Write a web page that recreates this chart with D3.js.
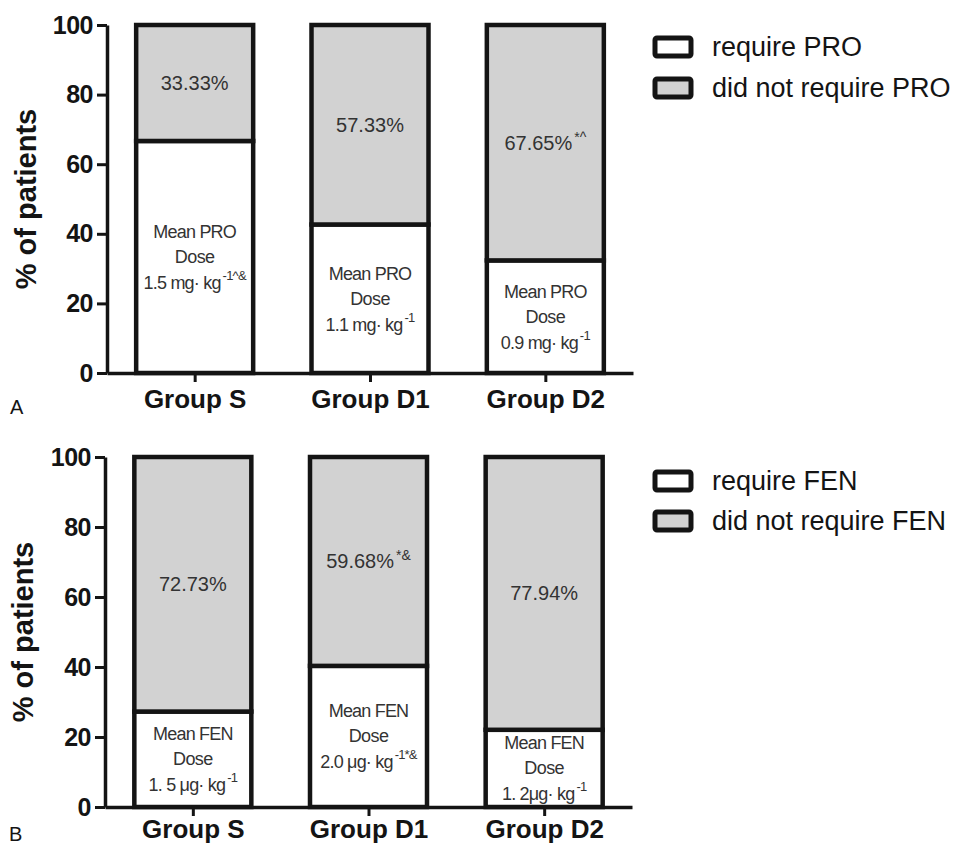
<!DOCTYPE html>
<html>
<head>
<meta charset="utf-8">
<script src="https://cdn.jsdelivr.net/npm/d3@7"></script>
<style>
  body { margin: 0; background: #fff; }
  svg { display: block; }
  text { font-family: "Liberation Sans", Arial, sans-serif; }
</style>
</head>
<body>
<script>
var width = 967;
var height = 846;

// ------- data --------

var groups = ['Group S', 'Group D1', 'Group D2'];
var yTicks = [0, 20, 40, 60, 80, 100];

// panel A: propofol
var proRequire = [66.67, 42.67, 32.35];
var proNotRequire = [33.33, 57.33, 67.65];
var proNotSup = ['', '', '*^'];
var proDose = ['1.5 mg· kg', '1.1 mg· kg', '0.9 mg· kg'];
var proDoseSup = ['-1^&', '-1', '-1'];
var proLegend = ['require PRO', 'did not require PRO'];

// panel B: fentanyl
var fenRequire = [27.27, 40.32, 22.06];
var fenNotRequire = [72.73, 59.68, 77.94];
var fenNotSup = ['', '*&', ''];
var fenDose = ['1. 5 μg· kg', '2.0 μg· kg', '1. 2μg· kg'];
var fenDoseSup = ['-1', '-1*&', '-1'];
var fenLegend = ['require FEN', 'did not require FEN'];

var grey = '#d2d2d2';
var ink = '#141414';

// ------- SVG --------

var svg = d3.select('body')
    .append('svg')
    .attr('width', width)
    .attr('height', height);

function drawPanel(p) {
    var g = svg.append('g');

    var x = d3.scalePoint()
        .domain(groups)
        .range([p.left, p.right])
        .padding(0.5);
    var y = d3.scaleLinear()
        .domain([0, 100])
        .range([p.bottom, p.top]);
    var bw = 117;

    var rows = groups.map(function(d, i) {
        return {group: d, req: p.req[i], notReq: p.notReq[i],
                notSup: p.notSup[i], dose: p.dose[i], doseSup: p.doseSup[i]};
    });

    // bars: white part (required) then grey part (not required)
    g.selectAll('rect.req')
        .data(rows)
        .enter()
        .append('rect')
        .attr('class', 'req')
        .attr('x', function(d) { return x(d.group) - bw / 2; })
        .attr('y', function(d) { return y(d.req); })
        .attr('width', bw)
        .attr('height', function(d) { return y(0) - y(d.req); })
        .attr('fill', '#fff')
        .attr('stroke', ink)
        .attr('stroke-width', 4.5);

    g.selectAll('rect.notreq')
        .data(rows)
        .enter()
        .append('rect')
        .attr('class', 'notreq')
        .attr('x', function(d) { return x(d.group) - bw / 2; })
        .attr('y', y(100))
        .attr('width', bw)
        .attr('height', function(d) { return y(d.req) - y(100); })
        .attr('fill', grey)
        .attr('stroke', ink)
        .attr('stroke-width', 4.5);

    // percent labels in grey part
    var pct = g.selectAll('text.pct')
        .data(rows)
        .enter()
        .append('text')
        .attr('class', 'pct')
        .attr('x', function(d) { return x(d.group); })
        .attr('y', function(d) { return (y(d.req) + y(100)) / 2 + 7; })
        .attr('text-anchor', 'middle')
        .attr('font-size', 20)
        .attr('fill', '#333');
    pct.append('tspan').text(function(d) { return d.notReq.toFixed(2) + '%'; });
    pct.append('tspan')
        .attr('font-size', 14)
        .attr('dy', -8)
        .attr('dx', 2)
        .text(function(d) { return d.notSup; });

    // dose labels in white part
    var dose = g.selectAll('g.dose')
        .data(rows)
        .enter()
        .append('g')
        .attr('class', 'dose')
        .attr('transform', function(d) {
            return 'translate(' + x(d.group) + ',' + (y(0) + y(d.req)) / 2 + ')';
        });
    dose.append('text')
        .attr('text-anchor', 'middle')
        .attr('y', -19)
        .attr('font-size', 18)
        .attr('letter-spacing', -0.8)
        .attr('fill', '#333')
        .text(p.drugLine);
    dose.append('text')
        .attr('text-anchor', 'middle')
        .attr('y', 6)
        .attr('font-size', 18)
        .attr('letter-spacing', -0.6)
        .attr('fill', '#333')
        .text('Dose');
    var dl = dose.append('text')
        .attr('text-anchor', 'middle')
        .attr('y', 32)
        .attr('font-size', 18)
        .attr('letter-spacing', -0.8)
        .attr('fill', '#333');
    dl.append('tspan').text(function(d) { return d.dose; });
    dl.append('tspan')
        .attr('font-size', 13)
        .attr('dy', -9)
        .attr('dx', 2)
        .text(function(d) { return d.doseSup; });

    // axes
    var yAxis = d3.axisLeft(y)
        .tickValues(yTicks)
        .tickSize(10)
        .tickSizeOuter(0)
        .tickPadding(4);
    var ya = g.append('g')
        .attr('transform', 'translate(' + p.left + ',0)')
        .call(yAxis);
    ya.select('.domain').attr('stroke', ink).attr('stroke-width', 3.5);
    ya.selectAll('.tick line').attr('stroke', ink).attr('stroke-width', 3);
    ya.selectAll('.tick text')
        .attr('font-size', 25)
        .attr('font-weight', 'bold')
        .attr('letter-spacing', -0.5)
        .attr('font-family', '"Liberation Sans", Arial, sans-serif')
        .attr('fill', ink);

    var xAxis = d3.axisBottom(x)
        .tickSize(9)
        .tickSizeOuter(0)
        .tickPadding(p.xPad);
    var xa = g.append('g')
        .attr('transform', 'translate(0,' + p.bottom + ')')
        .call(xAxis);
    xa.select('.domain').attr('stroke', ink).attr('stroke-width', 3.5);
    xa.selectAll('.tick line').attr('stroke', ink).attr('stroke-width', 3);
    xa.selectAll('.tick text')
        .attr('font-size', 26)
        .attr('font-weight', 'bold')
        .attr('font-family', '"Liberation Sans", Arial, sans-serif')
        .attr('fill', ink);

    // y title
    g.append('text')
        .attr('transform', 'translate(' + p.titleX + ',' + (p.top + p.bottom) / 2 + ') rotate(-90)')
        .attr('text-anchor', 'middle')
        .attr('font-size', 29)
        .attr('font-weight', 'bold')
        .attr('fill', ink)
        .text('% of patients');

    // panel letter
    g.append('text')
        .attr('x', p.letterX)
        .attr('y', p.letterY)
        .attr('font-size', 20)
        .attr('fill', ink)
        .text(p.letter);

    // legend
    var lg = g.selectAll('g.legend')
        .data(p.legend)
        .enter()
        .append('g')
        .attr('class', 'legend')
        .attr('transform', function(d, i) { return 'translate(655,' + p.legendY[i] + ')'; });
    lg.append('rect')
        .attr('x', 0)
        .attr('y', -9)
        .attr('width', 36)
        .attr('height', 18)
        .attr('rx', 2)
        .attr('fill', function(d, i) { return i === 0 ? '#fff' : grey; })
        .attr('stroke', ink)
        .attr('stroke-width', 5);
    lg.append('text')
        .attr('x', 57)
        .attr('y', 9)
        .attr('font-size', 27)
        .attr('fill', ink)
        .text(function(d) { return d; });
}

drawPanel({
    left: 107, right: 633, top: 25, bottom: 373,
    req: proRequire, notReq: proNotRequire, notSup: proNotSup,
    dose: proDose, doseSup: proDoseSup, drugLine: 'Mean PRO',
    legend: proLegend, legendY: [47, 88], xPad: 8,
    titleX: 36, letter: 'A', letterX: 10, letterY: 414
});

drawPanel({
    left: 105, right: 632, top: 457, bottom: 807,
    req: fenRequire, notReq: fenNotRequire, notSup: fenNotSup,
    dose: fenDose, doseSup: fenDoseSup, drugLine: 'Mean FEN',
    legend: fenLegend, legendY: [481, 521], xPad: 4,
    titleX: 33, letter: 'B', letterX: 9, letterY: 841
});
</script>
</body>
</html>
